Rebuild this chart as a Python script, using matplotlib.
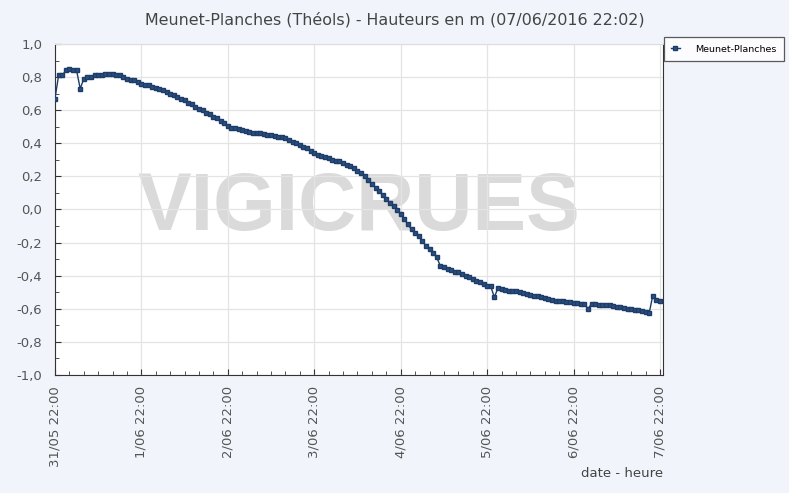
import numpy as np
import pandas as pd
import matplotlib
matplotlib.use("Agg")
import matplotlib.pyplot as plt
import matplotlib.dates as mdates
from matplotlib.ticker import MultipleLocator, FuncFormatter

# hauteurs horaires (m) depuis le 31/05 22:00
day0 = [0.67, 0.81, 0.81, 0.84, 0.85, 0.84, 0.84, 0.73, 0.79, 0.80, 0.80, 0.81,
        0.81, 0.81, 0.82, 0.82, 0.82, 0.81, 0.81, 0.80, 0.79, 0.78, 0.78, 0.77]
day1 = [0.76, 0.755, 0.75, 0.74, 0.735, 0.725, 0.72, 0.71, 0.70, 0.69, 0.68, 0.67,
        0.66, 0.645, 0.635, 0.62, 0.61, 0.60, 0.585, 0.575, 0.56, 0.55, 0.535, 0.52]
day2 = [0.505, 0.495, 0.49, 0.485, 0.48, 0.475, 0.47, 0.465, 0.465, 0.46, 0.455, 0.45,
        0.45, 0.445, 0.44, 0.435, 0.43, 0.42, 0.41, 0.40, 0.39, 0.38, 0.37, 0.355]
day3 = [0.34, 0.33, 0.325, 0.32, 0.31, 0.30, 0.295, 0.29, 0.28, 0.27, 0.26, 0.25,
        0.235, 0.22, 0.20, 0.18, 0.155, 0.13, 0.11, 0.09, 0.065, 0.04, 0.02, -0.005]
day4 = [-0.03, -0.06, -0.09, -0.12, -0.14, -0.16, -0.19, -0.22, -0.24, -0.26, -0.29, -0.34,
        -0.35, -0.36, -0.365, -0.375, -0.38, -0.39, -0.40, -0.41, -0.42, -0.43, -0.44, -0.45]
day5 = [-0.46, -0.465, -0.53, -0.475, -0.48, -0.485, -0.49, -0.49, -0.495, -0.50, -0.505, -0.51,
        -0.515, -0.52, -0.525, -0.53, -0.535, -0.54, -0.545, -0.55, -0.555, -0.555, -0.56, -0.56]
day6 = [-0.565, -0.565, -0.57, -0.57, -0.60, -0.57, -0.57, -0.575, -0.575, -0.58, -0.58, -0.585,
        -0.59, -0.59, -0.595, -0.60, -0.60, -0.605, -0.61, -0.615, -0.62, -0.625, -0.52, -0.545,
        -0.55]
hauteurs = day0 + day1 + day2 + day3 + day4 + day5 + day6
dates = pd.date_range("2016-05-31 22:00", periods=len(hauteurs), freq="h")

titre = "Meunet-Planches (Théols) - Hauteurs en m (07/06/2016 22:02)"
station = "Meunet-Planches"

bg = "#f1f5fb"
fig = plt.figure(figsize=(7.89, 4.93), dpi=100, facecolor=bg)
ax = fig.add_axes([0.0697, 0.2394, 0.7706, 0.6714])
ax.set_facecolor("white")

# filigrane
ax.text(0.5, 0.5, "VIGICRUES", transform=ax.transAxes, ha="center", va="center",
        fontsize=58, fontweight="bold", color="#dadada",
        family=["Liberation Sans Narrow", "Liberation Sans", "DejaVu Sans"], zorder=0)

ax.plot(dates, hauteurs, color="#1d3c68", lw=1.0, marker="s", ms=3.0,
        mec="#1d3c68", mfc="#2a4f80", label=station, zorder=3)

ax.set_ylim(-1.0, 1.0)
ax.set_xlim(dates[0], dates[-1] + pd.Timedelta(minutes=50))
ax.yaxis.set_major_locator(MultipleLocator(0.2))
ax.yaxis.set_minor_locator(MultipleLocator(0.1))
ax.yaxis.set_major_formatter(FuncFormatter(lambda v, p: f"{v:.1f}".replace(".", ",").replace("-0,0", "0,0")))

ax.xaxis.set_major_locator(mdates.HourLocator(byhour=[22]))
ax.xaxis.set_minor_locator(mdates.HourLocator(byhour=[2, 6, 10, 14, 18]))
ax.xaxis.set_major_formatter(FuncFormatter(
    lambda v, p: f"{mdates.num2date(v).day}/{mdates.num2date(v).month:02d} 22:00"))

ax.grid(True, which="major", color="#e4e4e4", lw=0.9)
ax.tick_params(which="both", direction="in", colors="#333333", labelcolor="#555555", labelsize=9.5)
ax.tick_params(which="major", length=4)
ax.tick_params(which="minor", length=3)
for lab in ax.get_xticklabels():
    lab.set_rotation(90)
ax.tick_params(axis="x", pad=8)
ax.tick_params(axis="y", pad=9)

for s in ["left", "bottom", "right"]:
    ax.spines[s].set_color("#333333")
ax.spines["top"].set_color("#dddddd")

fig.text(0.5, 1 - 20 / 493, titre, ha="center", va="center", fontsize=11.4, color="#444444")
ax.set_xlabel("date - heure", fontsize=9.5, color="#444444", loc="right", labelpad=0)

leg = ax.legend(loc="upper left", bbox_to_anchor=(0.841, 0.925), bbox_transform=fig.transFigure,
                fontsize=6.8, frameon=True, fancybox=False, borderpad=0.8,
                handlelength=0.9, handletextpad=1.6, markerscale=1.0, borderaxespad=0)
leg.get_frame().set_edgecolor("#333333")
leg.get_frame().set_linewidth(0.9)
leg.get_frame().set_facecolor("white")

fig.savefig("out.png", dpi=100, facecolor=bg)
